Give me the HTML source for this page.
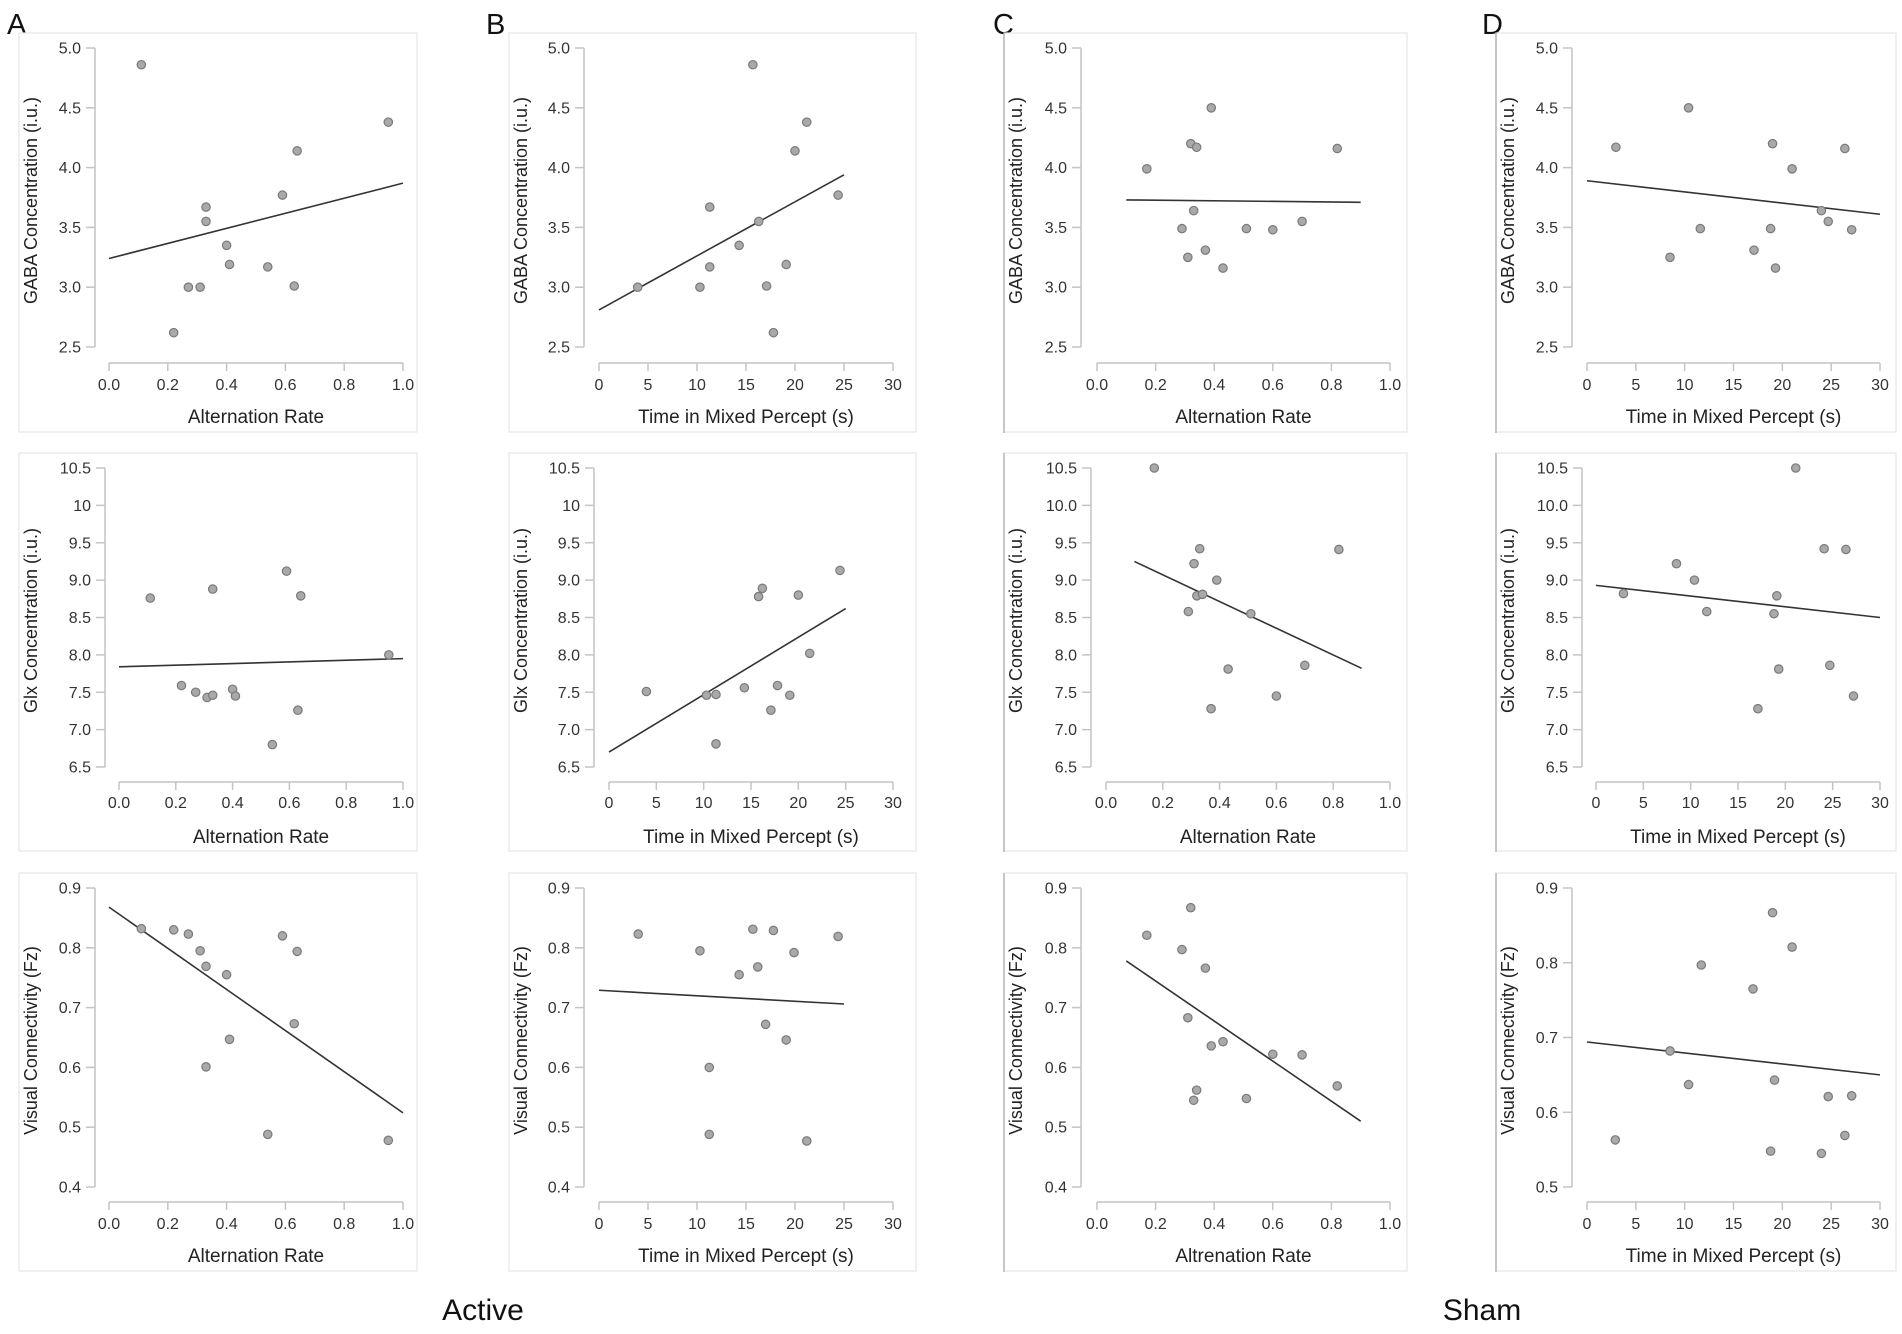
<!DOCTYPE html>
<html><head><meta charset="utf-8"><style>
html,body{margin:0;padding:0;background:#fff;}
body{width:1902px;height:1329px;position:relative;overflow:hidden;font-family:"Liberation Sans",sans-serif;}
svg text{font-family:"Liberation Sans",sans-serif;}
</style></head><body>
<svg id="fig" width="1902" height="1329" viewBox="0 0 1902 1329" xmlns="http://www.w3.org/2000/svg">
<text x="7" y="34" font-size="29" fill="#111">A</text>
<text x="486" y="34" font-size="29" fill="#111">B</text>
<text x="993" y="34" font-size="29" fill="#111">C</text>
<text x="1482" y="34" font-size="29" fill="#111">D</text>
<text x="483" y="1320" font-size="30" text-anchor="middle" fill="#111">Active</text>
<text x="1482" y="1320" font-size="30" text-anchor="middle" fill="#111">Sham</text>
</svg>
<script>
// ---- data arrays (top level) ----
const xTicksRate = ["0.0","0.2","0.4","0.6","0.8","1.0"];
const xTicksTime = ["0","5","10","15","20","25","30"];
const yTicksGaba = ["2.5","3.0","3.5","4.0","4.5","5.0"];
const yTicksGlxA = ["6.5","7.0","7.5","8.0","8.5","9.0","9.5","10","10.5"];
const yTicksGlx = ["6.5","7.0","7.5","8.0","8.5","9.0","9.5","10.0","10.5"];
const yTicksVc = ["0.4","0.5","0.6","0.7","0.8","0.9"];
const yTicksVcD = ["0.5","0.6","0.7","0.8","0.9"];

const aRateX = [0.11,0.22,0.27,0.31,0.33,0.33,0.40,0.41,0.54,0.59,0.63,0.64,0.95];
const aGabaY = [4.86,2.62,3.00,3.00,3.67,3.55,3.35,3.19,3.17,3.77,3.01,4.14,4.38];
const aGlxY  = [8.76,7.59,7.50,7.43,7.46,8.88,7.54,7.45,6.80,9.12,7.26,8.79,8.00];
const aVcY   = [0.832,0.830,0.823,0.795,0.769,0.601,0.755,0.647,0.488,0.820,0.673,0.794,0.478];
const aGabaFit = [3.24,3.87], aGlxFit = [7.84,7.95], aVcFit = [0.868,0.524];

const bTimeGabaX = [3.95,10.3,11.3,11.3,14.3,15.7,16.3,17.1,17.8,19.1,20.0,21.2,24.4];
const bGabaY     = [3.00,3.00,3.67,3.17,3.35,4.86,3.55,3.01,2.62,3.19,4.14,4.38,3.77];
const bTimeGlxX  = [3.95,10.3,11.3,11.3,14.3,15.8,16.2,17.1,17.8,19.1,20.0,21.2,24.4];
const bGlxY      = [7.51,7.46,7.47,6.81,7.56,8.78,8.89,7.26,7.59,7.46,8.80,8.02,9.13];
const bTimeVcX   = [4.0,10.3,11.25,11.25,14.3,15.7,16.2,17.0,17.8,19.1,19.9,21.2,24.4];
const bVcY       = [0.823,0.795,0.600,0.488,0.755,0.831,0.768,0.672,0.829,0.646,0.792,0.477,0.819];
const bGabaFit = [2.81,3.94], bGlxFit = [6.70,8.62], bVcFit = [0.729,0.706];

const cRateGabaX = [0.17,0.29,0.31,0.32,0.33,0.34,0.37,0.39,0.43,0.51,0.60,0.70,0.82];
const cGabaY     = [3.99,3.49,3.25,4.20,3.64,4.17,3.31,4.50,3.16,3.49,3.48,3.55,4.16];
const cRateGlxX  = [0.17,0.29,0.31,0.32,0.33,0.34,0.37,0.39,0.43,0.51,0.60,0.70,0.82];
const cGlxY      = [10.5,8.58,9.22,8.79,9.42,8.81,7.28,9.00,7.81,8.55,7.45,7.86,9.41];
const cRateVcX   = [0.17,0.29,0.32,0.37,0.31,0.39,0.43,0.34,0.33,0.51,0.60,0.70,0.82];
const cVcY       = [0.821,0.797,0.867,0.766,0.683,0.636,0.643,0.562,0.545,0.548,0.622,0.621,0.569];
const cGabaFit = [3.73,3.71], cGlxFit = [9.25,7.82], cVcFit = [0.778,0.510];

const dTimeGabaX = [2.96,8.5,10.4,11.6,17.1,18.8,19.0,19.3,21.0,24.0,24.7,26.4,27.1];
const dGabaY     = [4.17,3.25,4.50,3.49,3.31,3.49,4.20,3.16,3.99,3.64,3.55,4.16,3.48];
const dTimeGlxX  = [2.9,8.5,10.4,11.7,17.1,18.8,19.1,19.3,21.1,24.1,24.7,26.4,27.2];
const dGlxY      = [8.82,9.22,9.00,8.58,7.28,8.55,8.79,7.81,10.5,9.42,7.86,9.41,7.45];
const dTimeVcX   = [2.9,8.5,10.4,11.7,17.0,18.8,19.0,19.2,21.0,24.0,24.7,26.4,27.1];
const dVcY       = [0.563,0.682,0.637,0.797,0.765,0.548,0.867,0.643,0.821,0.545,0.621,0.569,0.622];
const dGabaFit = [3.89,3.61], dGlxFit = [8.93,8.50], dVcFit = [0.694,0.650];

// ---- drawing ----
const NS = "http://www.w3.org/2000/svg";
const svg = document.getElementById('fig');
function mk(tag, attrs, parent){
  const e = document.createElementNS(NS, tag);
  for (const k in attrs) e.setAttribute(k, attrs[k]);
  (parent||svg).appendChild(e);
  return e;
}
const rows = [
  {top:33,bot:432,yT:48,yB:347,xa:363,tl:390,tt:423},
  {top:453,bot:851,yT:468,yB:767,xa:782,tl:808,tt:843},
  {top:873,bot:1271,yT:888,yB:1187,xa:1202,tl:1229,tt:1262}
];
const cols = [
  {l:19,r:417,ya:[95,105,95],x0:[109,119,109],x1:[403,403,403],dark:false},
  {l:509,r:916,ya:[584,594,584],x0:[599,609,599],x1:[893,893,893],dark:false},
  {l:1004,r:1407,ya:[1081,1091,1081],x0:[1097,1106,1097],x1:[1390,1390,1390],dark:true},
  {l:1496,r:1896,ya:[1572,1582,1572],x0:[1587,1596,1587],x1:[1880,1880,1880],dark:true}
];
function panel(ci, ri, name, xt, xmin, xmax, xTitle, yt, yTitle, xs, ys, fit, fitX){
  const c = cols[ci], r = rows[ri];
  const g = mk('g', {});
  
  
  const bg = mk('rect', {x:c.l, y:r.top, width:c.r-c.l, height:r.bot-r.top, fill:'#fff', stroke:'#e6e6e6', 'stroke-width':1.2}, g);
  
  
  if (c.dark){
    const lb = mk('line', {x1:c.l, y1:r.top, x2:c.l, y2:r.bot+1, stroke:'#b5b5b5', 'stroke-width':1.5}, g);
    
    
  }
  const ymin = parseFloat(yt[0]), ymax = parseFloat(yt[yt.length-1]);
  const x0 = c.x0[ri], x1 = c.x1[ri], ya = c.ya[ri];
  const sx = v => x0 + (v - xmin) / (xmax - xmin) * (x1 - x0);
  const sy = v => r.yB - (v - ymin) / (ymax - ymin) * (r.yB - r.yT);
  const yax = mk('g', {}, g);
  
  
  mk('line', {x1:ya, y1:r.yT, x2:ya, y2:r.yB, stroke:'#c4c4c4', 'stroke-width':1.5}, yax);
  yt.forEach(t => {
    const y = sy(parseFloat(t));
    mk('line', {x1:ya-9, y1:y, x2:ya, y2:y, stroke:'#c4c4c4', 'stroke-width':1.5}, yax);
    const tx = mk('text', {x:ya-14, y:y+5.5, 'font-size':16, 'text-anchor':'end', fill:'#333'}, yax);
    
    
    tx.textContent = t;
  });
  const ytl = mk('text', {x:0, y:0, 'font-size':18, 'text-anchor':'middle', fill:'#222',
    transform:`translate(${c.l+18},${(r.yT+r.yB)/2+3}) rotate(-90)`}, g);
  
  
  ytl.textContent = yTitle;
  const xax = mk('g', {}, g);
  
  
  mk('line', {x1:x0, y1:r.xa, x2:x1, y2:r.xa, stroke:'#c4c4c4', 'stroke-width':1.5}, xax);
  xt.forEach(t => {
    const x = sx(parseFloat(t));
    mk('line', {x1:x, y1:r.xa, x2:x, y2:r.xa+8, stroke:'#c4c4c4', 'stroke-width':1.5}, xax);
    const tx = mk('text', {x:x, y:r.tl, 'font-size':16, 'text-anchor':'middle', fill:'#333'}, xax);
    
    
    tx.textContent = t;
  });
  const xtl = mk('text', {x:(x0+x1)/2, y:r.tt, 'font-size':19, 'text-anchor':'middle', fill:'#222'}, g);
  
  
  xtl.textContent = xTitle;
  const fl = mk('line', {x1:sx(fitX[0]), y1:sy(fit[0]), x2:sx(fitX[1]), y2:sy(fit[1]), stroke:'#333', 'stroke-width':1.6}, g);
  
  
  xs.forEach((xv, i) => {
    const p = mk('circle', {cx:sx(xv), cy:sy(ys[i]), r:4.2, fill:'#a9a9a9', stroke:'#7a7a7a', 'stroke-width':1.2}, g);
    
    
  });
}
const GABA = "GABA Concentration (i.u.)", GLX = "Glx Concentration (i.u.)", VC = "Visual Connectivity (Fz)";
const AR = "Alternation Rate", TM = "Time in Mixed Percept (s)";
panel(0,0,'chart-a-gaba',xTicksRate,0,1,AR,yTicksGaba,GABA,aRateX,aGabaY,aGabaFit,[0,1]);
panel(0,1,'chart-a-glx',xTicksRate,0,1,AR,yTicksGlxA,GLX,aRateX,aGlxY,aGlxFit,[0,1]);
panel(0,2,'chart-a-connectivity',xTicksRate,0,1,AR,yTicksVc,VC,aRateX,aVcY,aVcFit,[0,1]);
panel(1,0,'chart-b-gaba',xTicksTime,0,30,TM,yTicksGaba,GABA,bTimeGabaX,bGabaY,bGabaFit,[0,25]);
panel(1,1,'chart-b-glx',xTicksTime,0,30,TM,yTicksGlxA,GLX,bTimeGlxX,bGlxY,bGlxFit,[0,25]);
panel(1,2,'chart-b-connectivity',xTicksTime,0,30,TM,yTicksVc,VC,bTimeVcX,bVcY,bVcFit,[0,25]);
panel(2,0,'chart-c-gaba',xTicksRate,0,1,AR,yTicksGaba,GABA,cRateGabaX,cGabaY,cGabaFit,[0.1,0.9]);
panel(2,1,'chart-c-glx',xTicksRate,0,1,AR,yTicksGlx,GLX,cRateGlxX,cGlxY,cGlxFit,[0.1,0.9]);
panel(2,2,'chart-c-connectivity',xTicksRate,0,1,"Altrenation Rate",yTicksVc,VC,cRateVcX,cVcY,cVcFit,[0.1,0.9]);
panel(3,0,'chart-d-gaba',xTicksTime,0,30,TM,yTicksGaba,GABA,dTimeGabaX,dGabaY,dGabaFit,[0,30]);
panel(3,1,'chart-d-glx',xTicksTime,0,30,TM,yTicksGlx,GLX,dTimeGlxX,dGlxY,dGlxFit,[0,30]);
panel(3,2,'chart-d-connectivity',xTicksTime,0,30,TM,yTicksVcD,VC,dTimeVcX,dVcY,dVcFit,[0,30]);
</script>
</body></html>
